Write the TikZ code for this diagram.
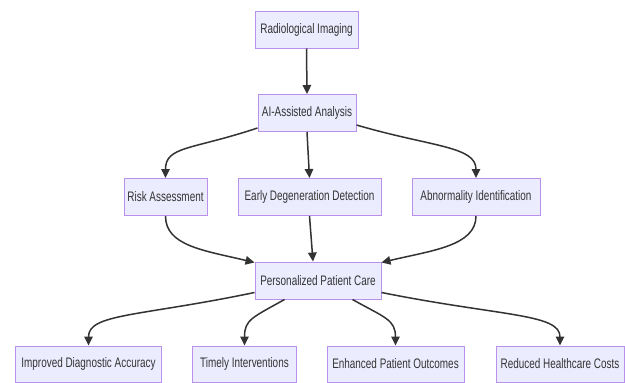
\documentclass[tikz,border=0pt]{standalone}
\usepackage{fontspec}
\setmainfont{Liberation Sans}[FakeStretch=0.72]
\usetikzlibrary{arrows.meta}
\definecolor{boxfill}{HTML}{ECECFF}
\definecolor{boxline}{HTML}{B990EC}
\definecolor{txt}{HTML}{333333}
\definecolor{edge}{HTML}{333333}
\tikzset{
  box/.style={draw=boxline, fill=boxfill, line width=1pt, inner sep=0pt,
    minimum height=37pt, text=txt, font=\fontsize{13.8}{15}\selectfont},
  flow/.style={draw=edge, line width=1.5pt, -{Triangle[length=9pt,width=8.5pt]}}
}
\begin{document}
\begin{tikzpicture}[x=1pt,y=-1pt]
\path[use as bounding box, fill=white] (0,0) rectangle (625,383);
\node[box, minimum width=103pt] (rad) at (306.5,29.5) {Radiological Imaging};
\node[box, minimum width=98pt] (ai) at (307,113) {AI-Assisted Analysis};
\node[box, minimum width=83pt] (risk) at (165.5,197) {Risk Assessment};
\node[box, minimum width=143pt] (early) at (309.5,197) {Early Degeneration Detection};
\node[box, minimum width=128pt] (abn) at (476,197) {Abnormality Identification};
\node[box, minimum width=126pt] (pers) at (318,280.5) {Personalized Patient Care};
\node[box, minimum width=146pt, minimum height=36pt] (imp) at (88.5,364) {Improved Diagnostic Accuracy};
\node[box, minimum width=104pt, minimum height=36pt] (tim) at (244.5,364) {Timely Interventions};
\node[box, minimum width=137pt, minimum height=36pt] (enh) at (395.5,364) {Enhanced Patient Outcomes};
\node[box, minimum width=128pt, minimum height=36pt] (red) at (560,364) {Reduced Healthcare Costs};

\draw[flow] (rad.south) -- (ai.north);
\draw[flow] ([yshift=4pt]ai.south west) .. controls +(-66,22) and +(0,-32) .. (risk.north);
\draw[flow] (ai.south) -- (early.north);
\draw[flow] ([yshift=7pt]ai.south east) .. controls +(75,22) and +(0,-32) .. (abn.north);
\draw[flow] (risk.south) .. controls +(0,30) and +(-50,-12) .. ([yshift=-1pt]pers.north west);
\draw[flow] (early.south) -- ([xshift=-5pt]pers.north);
\draw[flow] (abn.south) .. controls +(0,30) and +(50,-12) .. ([yshift=-1pt]pers.north east);
\draw[flow] ([yshift=7pt]pers.south west) .. controls +(-115,24) and +(0,-32) .. (imp.north);
\draw[flow] ([xshift=30pt]pers.south west) .. controls +(-32,18) and +(0,-26) .. (tim.north);
\draw[flow] ([xshift=-29pt]pers.south east) .. controls +(32,18) and +(0,-26) .. (enh.north);
\draw[flow] ([yshift=7pt]pers.south east) .. controls +(120,24) and +(0,-32) .. (red.north);
\end{tikzpicture}
\end{document}
